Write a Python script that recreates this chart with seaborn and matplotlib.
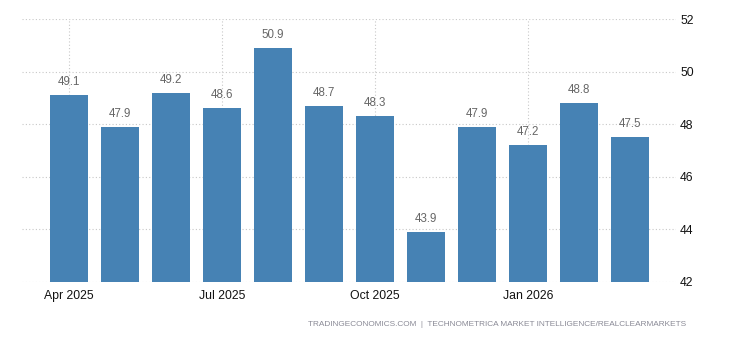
import matplotlib
matplotlib.use("Agg")
import matplotlib.pyplot as plt
import seaborn as sns
import pandas as pd

months = ["Apr 2025", "May 2025", "Jun 2025", "Jul 2025", "Aug 2025", "Sep 2025",
          "Oct 2025", "Nov 2025", "Dec 2025", "Jan 2026", "Feb 2026", "Mar 2026"]
values = [49.1, 47.9, 49.2, 48.6, 50.9, 48.7, 48.3, 43.9, 47.9, 47.2, 48.8, 47.5]
tick_labels = ["Apr 2025", "Jul 2025", "Oct 2025", "Jan 2026"]
y_ticks = [42, 44, 46, 48, 50, 52]

df = pd.DataFrame({"month": months, "value": values})

sns.set_style("white")
plt.rcParams['font.family'] = ['Liberation Sans', 'DejaVu Sans']

fig = plt.figure(figsize=(7.3, 3.4), dpi=100)
ax = fig.add_axes([22/730, 1-282/340, (676-22)/730, (282-19)/340])

sns.barplot(data=df, x="month", y="value", color="#4682B4", saturation=1,
            width=0.745, ax=ax, zorder=3, linewidth=0, edgecolor="none")

ax.set_ylim(42, 52)
ax.set_xlim(-0.92, 11.9)
ax.yaxis.tick_right()
ax.set_yticks(y_ticks)
ax.set_yticklabels([str(t) for t in y_ticks], fontsize=8.7, color="#111111")
tick_pos = [months.index(t) for t in tick_labels]
ax.set_xticks(tick_pos)
ax.set_xticklabels(tick_labels, fontsize=8.8, color="#111111")
ax.tick_params(axis="y", length=0, pad=3)
ax.tick_params(axis="x", length=3, color="#cccccc", pad=3)
ax.set_xlabel("")
ax.set_ylabel("")
for s in ax.spines.values():
    s.set_visible(False)

ax.grid(True, axis="both", linestyle=(0, (1, 2)), color="#c8c8c8", linewidth=0.8, zorder=0)
ax.set_axisbelow(True)

for i, v in enumerate(values):
    ax.text(i, v + 0.27, f"{v}", ha="center", va="bottom", fontsize=8.3, color="#666666")

fig.text(686/730, 1-324/340, "TRADINGECONOMICS.COM  |  TECHNOMETRICA MARKET INTELLIGENCE/REALCLEARMARKETS",
         ha="right", va="center", fontsize=5.95, color="#8a8a96")

fig.savefig("out.png", dpi=100)
